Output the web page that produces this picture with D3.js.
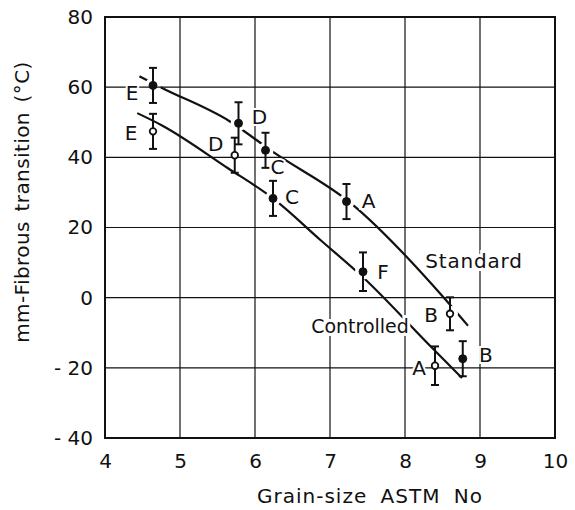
<!DOCTYPE html>
<html>
<head>
<meta charset="utf-8">
<script src="https://cdn.jsdelivr.net/npm/d3@7"></script>
<style>
  html, body { margin: 0; padding: 0; background: #fff; }
  svg { display: block; }
  text { font-family: "DejaVu Sans", sans-serif; fill: #111; }
</style>
</head>
<body>
<svg id="chart" width="575" height="510"></svg>
<script>
// Axis ticks
const xTicks = [4, 5, 6, 7, 8, 9, 10];
const yTicks = [-40, -20, 0, 20, 40, 60, 80];

// "Standard" treatment: grain size vs transition temperature, with scatter
const standardLabels = ["E", "D", "C", "A", "B"];
const standardX = [4.64, 5.78, 6.14, 7.22, 8.6];
const standardY = [60.5, 49.7, 42, 27.4, -4.6];
const standardErr = [5, 6, 5, 5, 4.7];
const standardHollow = [false, false, false, false, true];

// "Controlled" treatment
const controlledLabels = ["E", "D", "C", "F", "A", "B"];
const controlledX = [4.64, 5.73, 6.24, 7.44, 8.4, 8.77];
const controlledY = [47.4, 40.6, 28.3, 7.4, -19.4, -17.4];
const controlledErr = [5, 5, 5, 5.5, 5.5, 5];
const controlledHollow = [true, true, false, false, true, false];

// Hand-drawn trend lines through each set
const standardCurveX = [4.46, 4.74, 5.66, 6.25, 7.28, 8.53, 8.84];
const standardCurveY = [63.1, 60.0, 50.3, 41.4, 26.9, -0.3, -8.0];
const controlledCurveX = [4.43, 4.76, 5.64, 6.24, 6.88, 7.44, 8.36, 8.76];
const controlledCurveY = [52.6, 49.1, 36.9, 28.3, 16.3, 5.8, -14.3, -22.9];

const svg = d3.select("#chart");
const margin = { left: 105, top: 17, right: 20, bottom: 72 };
const W = 575, H = 510;
const x = d3.scaleLinear().domain([4, 10]).range([margin.left, W - margin.right]);
const y = d3.scaleLinear().domain([-40, 80]).range([H - margin.bottom, margin.top]);

// Grid
const grid = svg.append("g").attr("stroke", "#111").attr("stroke-width", 1.2);
grid.selectAll("line.vx").data(xTicks.slice(1, -1)).join("line")
  .attr("x1", d => x(d)).attr("x2", d => x(d))
  .attr("y1", y(80)).attr("y2", y(-40));
grid.selectAll("line.hy").data(yTicks.slice(1, -1)).join("line")
  .attr("y1", d => y(d)).attr("y2", d => y(d))
  .attr("x1", x(4)).attr("x2", x(10));

// Frame
svg.append("rect")
  .attr("x", x(4)).attr("y", y(80))
  .attr("width", x(10) - x(4)).attr("height", y(-40) - y(80))
  .attr("fill", "none").attr("stroke", "#111").attr("stroke-width", 2);

// Axes (labels only; the frame supplies the spine)
const xAxis = d3.axisBottom(x).tickValues(xTicks).tickSize(0).tickPadding(16)
  .tickFormat(d3.format("d"));
svg.append("g").attr("transform", `translate(0,${y(-40)})`).call(xAxis)
  .call(g => g.select(".domain").remove())
  .call(g => g.selectAll("text").style("font-size", "20px")
    .style("font-family", "'DejaVu Sans', sans-serif").attr("fill", "#111"));

const yAxis = d3.axisLeft(y).tickValues(yTicks).tickSize(0).tickPadding(12)
  .tickFormat(d => d < 0 ? "- " + Math.abs(d) : String(d));
svg.append("g").attr("transform", `translate(${x(4)},0)`).call(yAxis)
  .call(g => g.select(".domain").remove())
  .call(g => g.selectAll("text").style("font-size", "20px")
    .style("font-family", "'DejaVu Sans', sans-serif").attr("fill", "#111"));

// Axis titles
svg.append("text")
  .attr("x", 370).attr("y", 503)
  .attr("text-anchor", "middle").style("font-size", "20px")
  .style("letter-spacing", "1px").style("word-spacing", "6px")
  .text("Grain-size ASTM No");
svg.append("text")
  .attr("transform", `translate(29,${202}) rotate(-90)`)
  .attr("text-anchor", "middle").style("font-size", "20px")
  .style("letter-spacing", "0.4px").style("word-spacing", "3px")
  .text("mm-Fibrous transition (\u00B0C)");

// Trend lines, broken around each of their own markers
const line = d3.line().x(d => x(d[0])).y(d => y(d[1])).curve(d3.curveMonotoneX);
const defs = svg.append("defs");
function addCurve(id, cx, cy, px, py) {
  const m = defs.append("mask").attr("id", id).attr("maskUnits", "userSpaceOnUse");
  m.append("rect").attr("x", 0).attr("y", 0).attr("width", W).attr("height", H).attr("fill", "#fff");
  px.forEach((v, i) => m.append("circle").attr("cx", x(v)).attr("cy", y(py[i])).attr("r", 8).attr("fill", "#000"));
  svg.append("path")
    .datum(cx.map((v, i) => [v, cy[i]]))
    .attr("d", line).attr("fill", "none").attr("stroke", "#111")
    .attr("stroke-width", 2.2).attr("mask", `url(#${id})`);
}
addCurve("gap-standard", standardCurveX, standardCurveY, standardX, standardY);
addCurve("gap-controlled", controlledCurveX, controlledCurveY, controlledX, controlledY);

// Label placement around each marker
const labelOffset = {
  "S-E": [-21, 8], "S-D": [21, -6], "S-C": [12, 17], "S-A": [22, -1], "S-B": [-19, 1],
  "C-E": [-22, 2], "C-D": [-19, -11], "C-C": [19, -1], "C-F": [20, 0], "C-A": [-16, 2], "C-B": [23, -4]
};

function addPoints(key, labels, xs, ys, errs, hollow) {
  const g = svg.append("g");
  labels.forEach((lab, i) => {
    const cx = x(xs[i]), cy = y(ys[i]);
    const top = y(ys[i] + errs[i]), bot = y(ys[i] - errs[i]);
    const eb = g.append("g").attr("stroke", "#111").attr("stroke-width", 2);
    eb.append("line").attr("x1", cx).attr("x2", cx).attr("y1", top).attr("y2", bot);
    eb.append("line").attr("x1", cx - 4).attr("x2", cx + 4).attr("y1", top).attr("y2", top);
    eb.append("line").attr("x1", cx - 4).attr("x2", cx + 4).attr("y1", bot).attr("y2", bot);
    g.append("circle").attr("cx", cx).attr("cy", cy)
      .attr("r", hollow[i] ? 3.3 : 4)
      .attr("fill", hollow[i] ? "#fff" : "#111")
      .attr("stroke", "#111").attr("stroke-width", hollow[i] ? 1.8 : 1);
    const off = labelOffset[key + "-" + lab];
    g.append("text").attr("x", cx + off[0]).attr("y", cy + off[1])
      .attr("text-anchor", "middle").attr("dominant-baseline", "central")
      .style("font-size", "20px")
      .attr("stroke", "#fff").attr("stroke-width", 4).attr("paint-order", "stroke")
      .text(lab);
  });
}
addPoints("S", standardLabels, standardX, standardY, standardErr, standardHollow);
addPoints("C", controlledLabels, controlledX, controlledY, controlledErr, controlledHollow);

// Series names
svg.append("text").attr("x", x(8.92)).attr("y", y(10.5))
  .attr("text-anchor", "middle").attr("dominant-baseline", "central")
  .style("font-size", "20px").style("letter-spacing", "0.8px")
  .attr("stroke", "#fff").attr("stroke-width", 6).attr("paint-order", "stroke")
  .text("Standard");
svg.append("text").attr("x", x(7.4)).attr("y", y(-8))
  .attr("text-anchor", "middle").attr("dominant-baseline", "central")
  .style("font-size", "19px")
  .attr("stroke", "#fff").attr("stroke-width", 6).attr("paint-order", "stroke")
  .text("Controlled");
</script>
</body>
</html>
